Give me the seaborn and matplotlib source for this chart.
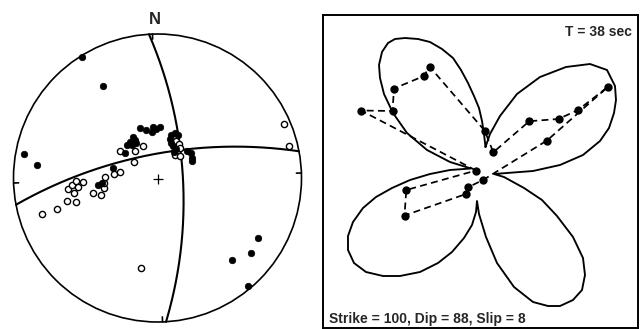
import numpy as np
import matplotlib
matplotlib.use("Agg")
import matplotlib.pyplot as plt
from matplotlib.patches import Circle
import seaborn as sns

# ---------------- left panel: stereonet (coordinates) ----------------
net_center = (157.5, 178.0)
net_radius = 144.0
tick_azimuths = [358, 88, 178, 268]

# great circles given as dip direction / dip (degrees)
plane_dipdir = [86.6, 349.3]
plane_dip = [70.0, 71.0]

filled_x = [81.7, 103.3, 24.3, 37.3, 258.3, 250.7, 232.0, 248.3,
            139.5, 145.5, 151.5, 152.5, 159.5, 155.5,
            133.3, 135.0, 130.0, 126.7, 131.7, 136.0, 125.0, 113.3, 98.0, 101.5,
            171.0, 175.0, 177.5, 169.5, 170.5, 173.0, 176.0, 174.0,
            187.0, 190.5, 191.5, 191.5]
filled_y = [57.3, 85.7, 153.7, 164.7, 237.7, 252.7, 260.0, 285.7,
            127.5, 129.5, 131.5, 127.0, 127.0, 129.0,
            137.3, 140.0, 141.7, 145.0, 145.0, 143.3, 153.3, 168.3, 184.5, 182.5,
            134.5, 132.5, 135.0, 138.5, 142.5, 146.0, 148.5, 151.5,
            151.0, 153.0, 157.5, 161.0]

open_x = [284.0, 289.0, 41.7, 57.3, 66.7, 76.0, 140.7,
          68.3, 71.7, 76.0, 83.3, 78.3, 74.0, 92.7, 101.0, 104.0, 104.0, 105.0,
          114.0, 119.5, 120.0, 134.5, 142.5, 134.3,
          175.5, 179.0, 180.0, 175.0, 180.0]
open_y = [124.0, 146.0, 213.7, 209.3, 201.0, 202.0, 267.7,
          189.3, 185.0, 181.0, 181.7, 186.7, 192.7, 193.3, 195.0, 187.7, 182.5, 176.7,
          173.5, 172.0, 151.0, 150.5, 145.5, 161.7,
          140.5, 144.0, 148.0, 155.0, 155.5]

# ---------------- right panel: radiation pattern ----------------
lobe_x = [485.5, 490, 500, 517, 540, 566, 590, 607, 615, 616, 614, 609, 600, 583, 560, 533, 507, 494,
          504, 524, 542, 557, 573, 583, 585, 582, 573, 560, 548, 533, 514, 497, 486, 479, 477,
          476, 472, 464, 452, 438, 420, 400, 383, 366, 354, 348, 348, 353, 363, 376, 392, 410, 430, 450, 471,
          450, 427, 407, 393, 384, 380, 379, 382, 388, 395, 405, 418, 430, 442, 453, 461, 468, 474, 479, 482, 484]
lobe_y = [147, 134, 116, 94, 77, 67, 64, 70, 86, 100, 113, 128, 141, 155, 165, 171, 173, 174,
          177, 188, 200, 216, 237, 258, 275, 290, 300, 306, 306, 302, 287, 263, 237, 214, 201,
          212, 225, 238, 252, 263, 272, 276, 276, 272, 263, 250, 236, 222, 208, 197, 188, 180, 174, 170, 168.5,
          162, 150, 133, 113, 94, 78, 65, 52, 43, 39, 38, 39, 42, 49, 58, 70, 83, 96, 108, 121, 134]

obs_x = [476.0, 361.0, 392.5, 394.0, 424.0, 429.5, 484.7, 493.3, 529.3, 558.5, 578.0, 607.8,
         547.0, 483.0, 468.0, 466.0, 404.5, 406.3]
obs_y = [170.5, 110.5, 111.0, 88.5, 76.0, 66.5, 130.7, 152.3, 121.2, 119.0, 110.0, 87.0,
         140.5, 180.0, 187.3, 194.0, 215.5, 190.0]

period_label = "T = 38 sec"
mechanism_label = "Strike = 100, Dip = 88, Slip = 8"


def great_circle(dipdir, dip, n=241):
    # equal-angle projection of a plane, lower hemisphere
    t = np.linspace(0, np.pi, n)
    a, d = np.radians(dipdir), np.radians(dip)
    st = a - np.pi / 2
    s = np.array([np.sin(st), np.cos(st), 0.0])
    dv = np.array([np.sin(a) * np.cos(d), np.cos(a) * np.cos(d), -np.sin(d)])
    v = np.outer(np.cos(t), s) + np.outer(np.sin(t), dv)
    plunge = np.arcsin(np.clip(-v[:, 2], -1, 1))
    trend = np.arctan2(v[:, 0], v[:, 1])
    r = np.tan((np.pi / 2 - plunge) / 2)
    return r * np.sin(trend), r * np.cos(trend)


sns.set_style("white")
plt.rcParams["font.family"] = ["Liberation Sans", "DejaVu Sans"]

W, H = 644, 329
fig = plt.figure(figsize=(W / 100, H / 100), dpi=100)

# ---- stereonet
ax1 = fig.add_axes([0, 0, 320 / W, 1])
ax1.set_xlim(0, 320)
ax1.set_ylim(329, 0)
ax1.axis("off")

cx, cy = net_center
ax1.add_patch(Circle((cx, cy), net_radius, fill=False, ec="black", lw=1.2))
for az in tick_azimuths:
    ar = np.radians(az)
    ux, uy = np.sin(ar), -np.cos(ar)
    ax1.plot([cx + ux * net_radius, cx + ux * (net_radius - 5)],
             [cy + uy * net_radius, cy + uy * (net_radius - 5)], color="black", lw=1.2)

for dd, dp in zip(plane_dipdir, plane_dip):
    gx, gy = great_circle(dd, dp)
    sns.lineplot(x=cx + net_radius * gx, y=cy - net_radius * gy, sort=False,
                 estimator=None, color="black", lw=1.5, ax=ax1)

ax1.plot(cx, cy + 1, marker="+", ms=7, mew=0.9, color="black")

sns.scatterplot(x=open_x, y=open_y, s=20, facecolor="white", edgecolor="black",
                linewidth=1.0, ax=ax1, zorder=3)
sns.scatterplot(x=filled_x, y=filled_y, s=22, color="black", edgecolor="black",
                linewidth=0.5, ax=ax1, zorder=4)
ax1.text(155, 19, "N", ha="center", va="center", fontsize=12, fontweight="bold")

# ---- radiation pattern
ax2 = fig.add_axes([323 / W, 1 - 328 / H, 315 / W, 313 / H])
ax2.set_xlim(323, 638)
ax2.set_ylim(328, 15)
ax2.set_xticks([])
ax2.set_yticks([])
for sp in ax2.spines.values():
    sp.set_visible(True)
    sp.set_color("black")
    sp.set_linewidth(1.4)

sns.lineplot(x=lobe_x + [lobe_x[0]], y=lobe_y + [lobe_y[0]], sort=False, estimator=None,
             color="black", lw=1.35, ax=ax2)
sns.lineplot(x=obs_x + [obs_x[0]], y=obs_y + [obs_y[0]], sort=False, estimator=None,
             color="black", lw=1.25, linestyle=(0, (4, 2.5)), ax=ax2)
sns.scatterplot(x=obs_x, y=obs_y, s=36, color="black", edgecolor="black", linewidth=0,
                ax=ax2, zorder=4)

ax2.text(632, 32, period_label, ha="right", va="center", fontsize=10, fontweight="bold")
ax2.text(329, 319, mechanism_label, ha="left", va="center", fontsize=10, fontweight="bold")

fig.savefig("out.png", dpi=100)
